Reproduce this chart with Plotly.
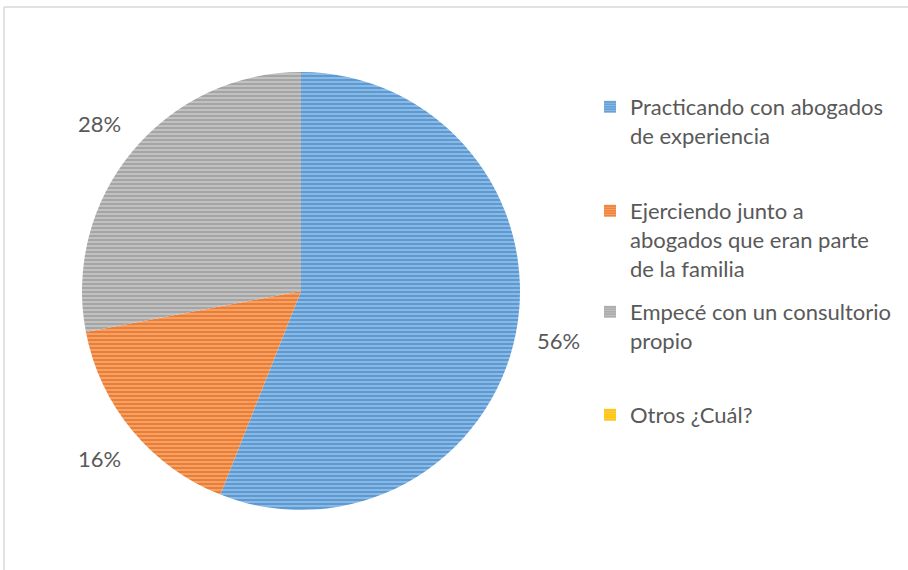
import math
import plotly.graph_objects as go

categories = [
    "Practicando con abogados de experiencia",
    "Ejerciendo junto a abogados que eran parte de la familia",
    "Empecé con un consultorio propio",
    "Otros ¿Cuál?",
]
legend_lines = [
    ["Practicando con abogados", "de experiencia"],
    ["Ejerciendo junto a", "abogados que eran parte", "de la familia"],
    ["Empecé con un consultorio", "propio"],
    ["Otros ¿Cuál?"],
]
values = [56, 16, 28, 0]
colors = ["#5B9BD5", "#ED7D31", "#A5A5A5", "#FFC000"]
tints = ["#C9DDF1", "#F9CDB0", "#E3E3E3", "#FFE8A6"]

W, H = 908, 570
TEXT = "#595959"
FONT = "Lato"
FS = 22

# pie geometry (pixels)
CX, CY, R = 301, 291, 219
LABEL_R = R + 43
legend_tops = [86, 190, 291, 394]   # px from top for each legend box
LEG_X = 590

fig = go.Figure()
fig.add_trace(
    go.Pie(
        labels=categories,
        values=values,
        sort=False,
        direction="clockwise",
        rotation=0,
        textinfo="none",
        marker=dict(
            colors=colors,
            line=dict(width=0),
            pattern=dict(shape="-", fgcolor=tints, size=4, solidity=0.45, fillmode="overlay"),
        ),
        domain=dict(x=[(CX - R) / W, (CX + R) / W], y=[1 - (CY + R) / H, 1 - (CY - R) / H]),
        hoverinfo="label+percent",
        showlegend=False,
    )
)

# legend entries (one legend per entry so spacing matches)
layout_legends = {}
for i, (cat, lines) in enumerate(zip(categories, legend_lines)):
    key = "legend" if i == 0 else f"legend{i + 1}"
    fig.add_trace(
        go.Bar(
            x=[None], y=[None], name="<br>".join(lines),
            marker=dict(color=colors[i], line=dict(width=0),
                        pattern=dict(shape="-", fgcolor=tints[i], size=3, solidity=0.45,
                                     fillmode="overlay")),
            legend=key, showlegend=True, hoverinfo="skip",
        )
    )
    layout_legends[key] = dict(
        x=LEG_X / W, y=1 - legend_tops[i] / H, xanchor="left", yanchor="top",
        valign="top", font=dict(family=FONT, size=FS, color=TEXT),
        bgcolor="rgba(0,0,0,0)", itemwidth=30,
    )

# percentage labels at each slice's mid-angle
total = sum(values)
annotations = []
cum = 0
for v in values:
    if v > 0:
        mid = (cum + v / 2) / total * 2 * math.pi
        px = CX + LABEL_R * math.sin(mid)
        py = CY - LABEL_R * math.cos(mid)
        annotations.append(dict(
            x=px / W, y=1 - py / H, xref="paper", yref="paper",
            text=f"{v}%", showarrow=False, xanchor="center", yanchor="middle",
            font=dict(family=FONT, size=FS, color=TEXT),
        ))
    cum += v

fig.update_layout(
    width=W,
    height=H,
    margin=dict(l=0, r=0, t=0, b=0),
    paper_bgcolor="white",
    plot_bgcolor="white",
    font=dict(family=FONT, color=TEXT, size=FS),
    xaxis=dict(visible=False),
    yaxis=dict(visible=False),
    annotations=annotations,
    shapes=[
        dict(type="line", xref="paper", yref="paper", x0=4 / W, x1=1.01, y0=1 - 7 / H, y1=1 - 7 / H,
             line=dict(color="#D9D9D9", width=1.5)),
        dict(type="line", xref="paper", yref="paper", x0=4 / W, x1=4 / W, y0=1 - 7 / H, y1=-0.01,
             line=dict(color="#D9D9D9", width=1.5)),
    ],
    **layout_legends,
)

fig.write_html("out.html", config={"displayModeBar": False},
               post_script="document.body.style.margin='0px';")
